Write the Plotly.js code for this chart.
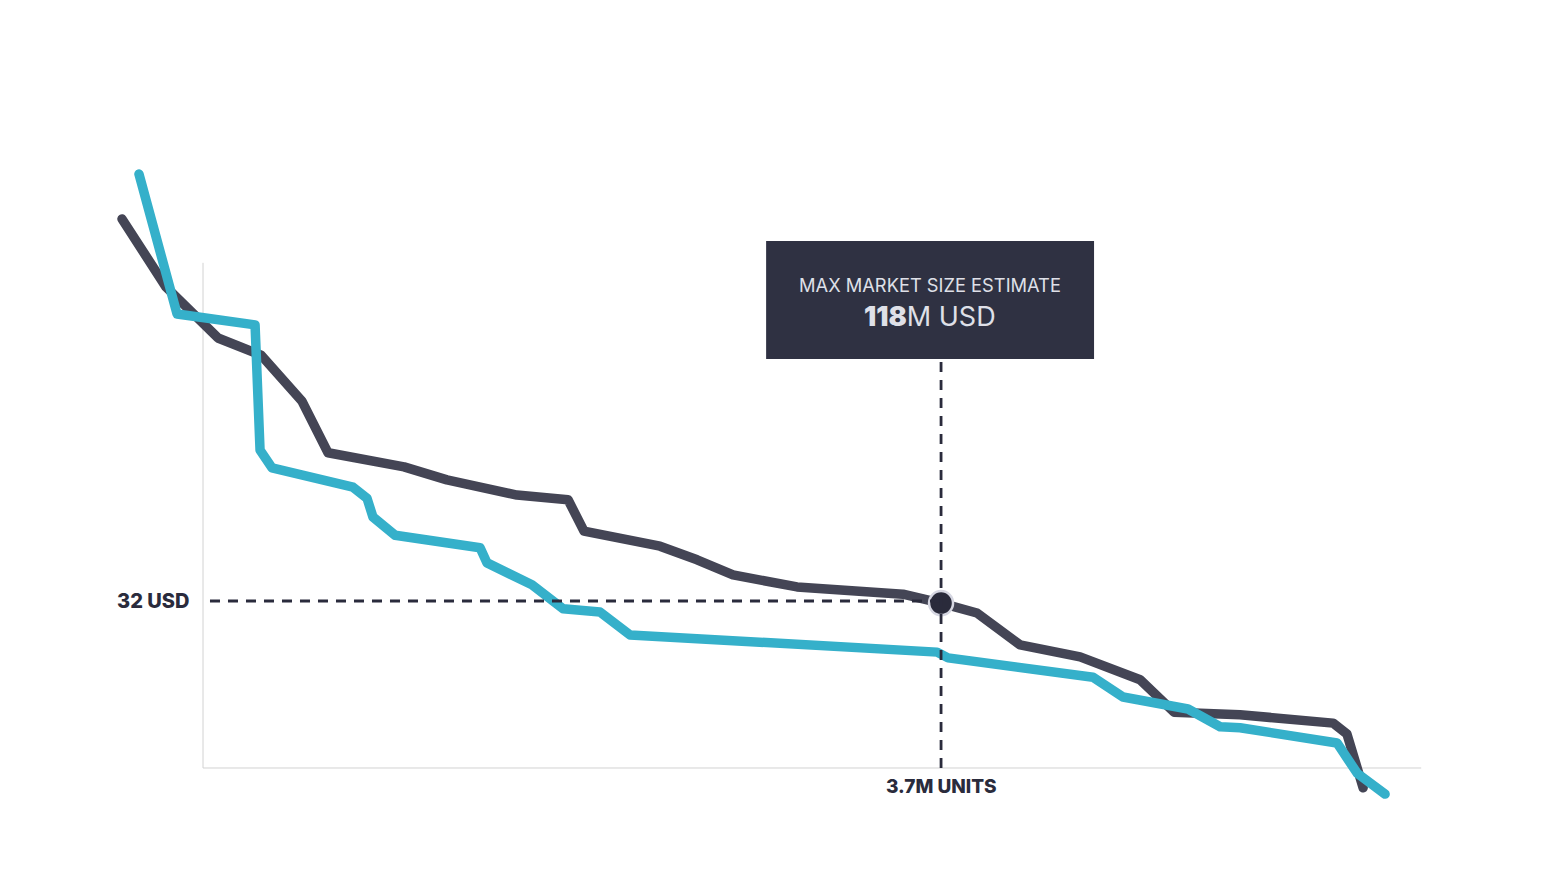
<!DOCTYPE html>
<html>
<head>
<meta charset="utf-8">
<script src="https://cdn.plot.ly/plotly-3.0.1.min.js"></script>
<style>
  html, body { margin: 0; padding: 0; background: #ffffff; }
  #chart { width: 1567px; height: 878px; }
  .scatterlayer .js-line { stroke-linecap: round !important; stroke-linejoin: round !important; }
</style>
</head>
<body>
<div id="chart"></div>
<script>
// Units sold (millions) vs price (USD)
const darkUnits = [-0.406, -0.186, 0.075, 0.291, 0.496, 0.627, 1.008, 1.223, 1.574, 1.830, 1.910, 2.291, 2.477, 2.657, 2.978, 3.509, 3.700, 3.880, 4.096, 4.397, 4.698, 4.868, 5.199, 5.665, 5.735, 5.816];
const darkPrice = [105.2, 92.2, 82.4, 79.1, 70.3, 60.4, 57.7, 55.2, 52.3, 51.4, 45.4, 42.5, 39.9, 37.0, 34.7, 33.3, 31.6, 29.7, 23.6, 21.3, 16.9, 10.7, 10.2, 8.6, 6.5, -3.8];

const cyanUnits = [-0.321, -0.130, 0.261, 0.286, 0.346, 0.752, 0.822, 0.852, 0.963, 1.389, 1.424, 1.649, 1.805, 1.990, 2.141, 3.680, 3.735, 4.462, 4.612, 4.938, 5.099, 5.199, 5.685, 5.786, 5.926];
const cyanPrice = [113.8, 87.0, 84.9, 60.9, 57.5, 53.8, 51.7, 48.1, 44.6, 42.2, 39.3, 35.1, 30.5, 29.9, 25.5, 22.2, 21.1, 17.4, 13.6, 11.3, 7.9, 7.7, 4.8, -1.0, -5.0];

const optimumUnits = 3.7;      // M units
const optimumPrice = 32;       // USD
const marketSize = 118;        // M USD
const priceLabel = "32 USD";
const unitsLabel = "3.7M UNITS";
const boxTitle = "MAX MARKET SIZE ESTIMATE";

const DARK = "#444555";
const CYAN = "#35b0ca";
const INK = "#2a2b3c";

const traces = [
  { x: darkUnits, y: darkPrice, type: "scatter", mode: "lines",
    line: { color: DARK, width: 9.5 }, hoverinfo: "skip" },
  { x: cyanUnits, y: cyanPrice, type: "scatter", mode: "lines",
    line: { color: CYAN, width: 9.5 }, hoverinfo: "skip" },
  { x: [optimumUnits], y: [31.6], type: "scatter", mode: "markers",
    marker: { size: 24, color: "#2a2b3b", line: { color: "#d6d7e2", width: 2.5 } },
    hoverinfo: "skip", cliponaxis: false }
];

const layout = {
  width: 1567, height: 878,
  margin: { l: 0, r: 0, t: 0, b: 0 },
  paper_bgcolor: "#ffffff", plot_bgcolor: "#ffffff",
  showlegend: false,
  xaxis: { range: [-1.0177, 6.838], visible: false, fixedrange: true },
  yaxis: { range: [-21.08, 147.16], visible: false, fixedrange: true },
  shapes: [
    { type: "line", xref: "x", yref: "y", x0: 0, x1: 0, y0: 0, y1: 96.8,
      line: { color: "#d2d2d2", width: 1 }, layer: "below" },
    { type: "line", xref: "x", yref: "y", x0: 0, x1: 6.107, y0: 0, y1: 0,
      line: { color: "#d2d2d2", width: 1 }, layer: "below" },
    { type: "line", xref: "x", yref: "y", x0: 0.035, x1: optimumUnits, y0: optimumPrice, y1: optimumPrice,
      line: { color: INK, width: 2.8, dash: "10px,8px" }, layer: "above" },
    { type: "line", xref: "x", yref: "y", x0: optimumUnits, x1: optimumUnits, y0: 0, y1: 78.37,
      line: { color: INK, width: 2.8, dash: "10px,8px" }, layer: "above" },
    { type: "rect", xref: "x", yref: "y", x0: 2.823, x1: 4.467, y0: 78.37, y1: 100.98,
      fillcolor: "#2f3142", line: { width: 0 }, layer: "above" }
  ],
  annotations: [
    { xref: "x", yref: "y", x: -0.06, y: optimumPrice, text: priceLabel, showarrow: false,
      xanchor: "right", yanchor: "middle",
      font: { family: "Inter, Roboto, sans-serif", size: 20, color: INK, weight: 800 } },
    { xref: "x", yref: "y", x: optimumUnits, y: -3.64, text: unitsLabel, showarrow: false,
      xanchor: "center", yanchor: "middle",
      font: { family: "Inter, Roboto, sans-serif", size: 19, color: INK, weight: 800 } },
    { xref: "x", yref: "y", x: 3.645, y: 92.6, text: boxTitle, showarrow: false,
      xanchor: "center", yanchor: "middle",
      font: { family: "Inter, Roboto, sans-serif", size: 18.3, color: "#dfe0e8", weight: 400 } },
    { xref: "x", yref: "y", x: 3.645, y: 86.6,
      text: "<span style='font-weight:900'>" + marketSize + "</span>M USD", showarrow: false,
      xanchor: "center", yanchor: "middle",
      font: { family: "Inter, Roboto, sans-serif", size: 27, color: "#dfe0e8", weight: 400 } }
  ]
};

Plotly.newPlot("chart", traces, layout, { staticPlot: true, displayModeBar: false });
</script>
</body>
</html>
